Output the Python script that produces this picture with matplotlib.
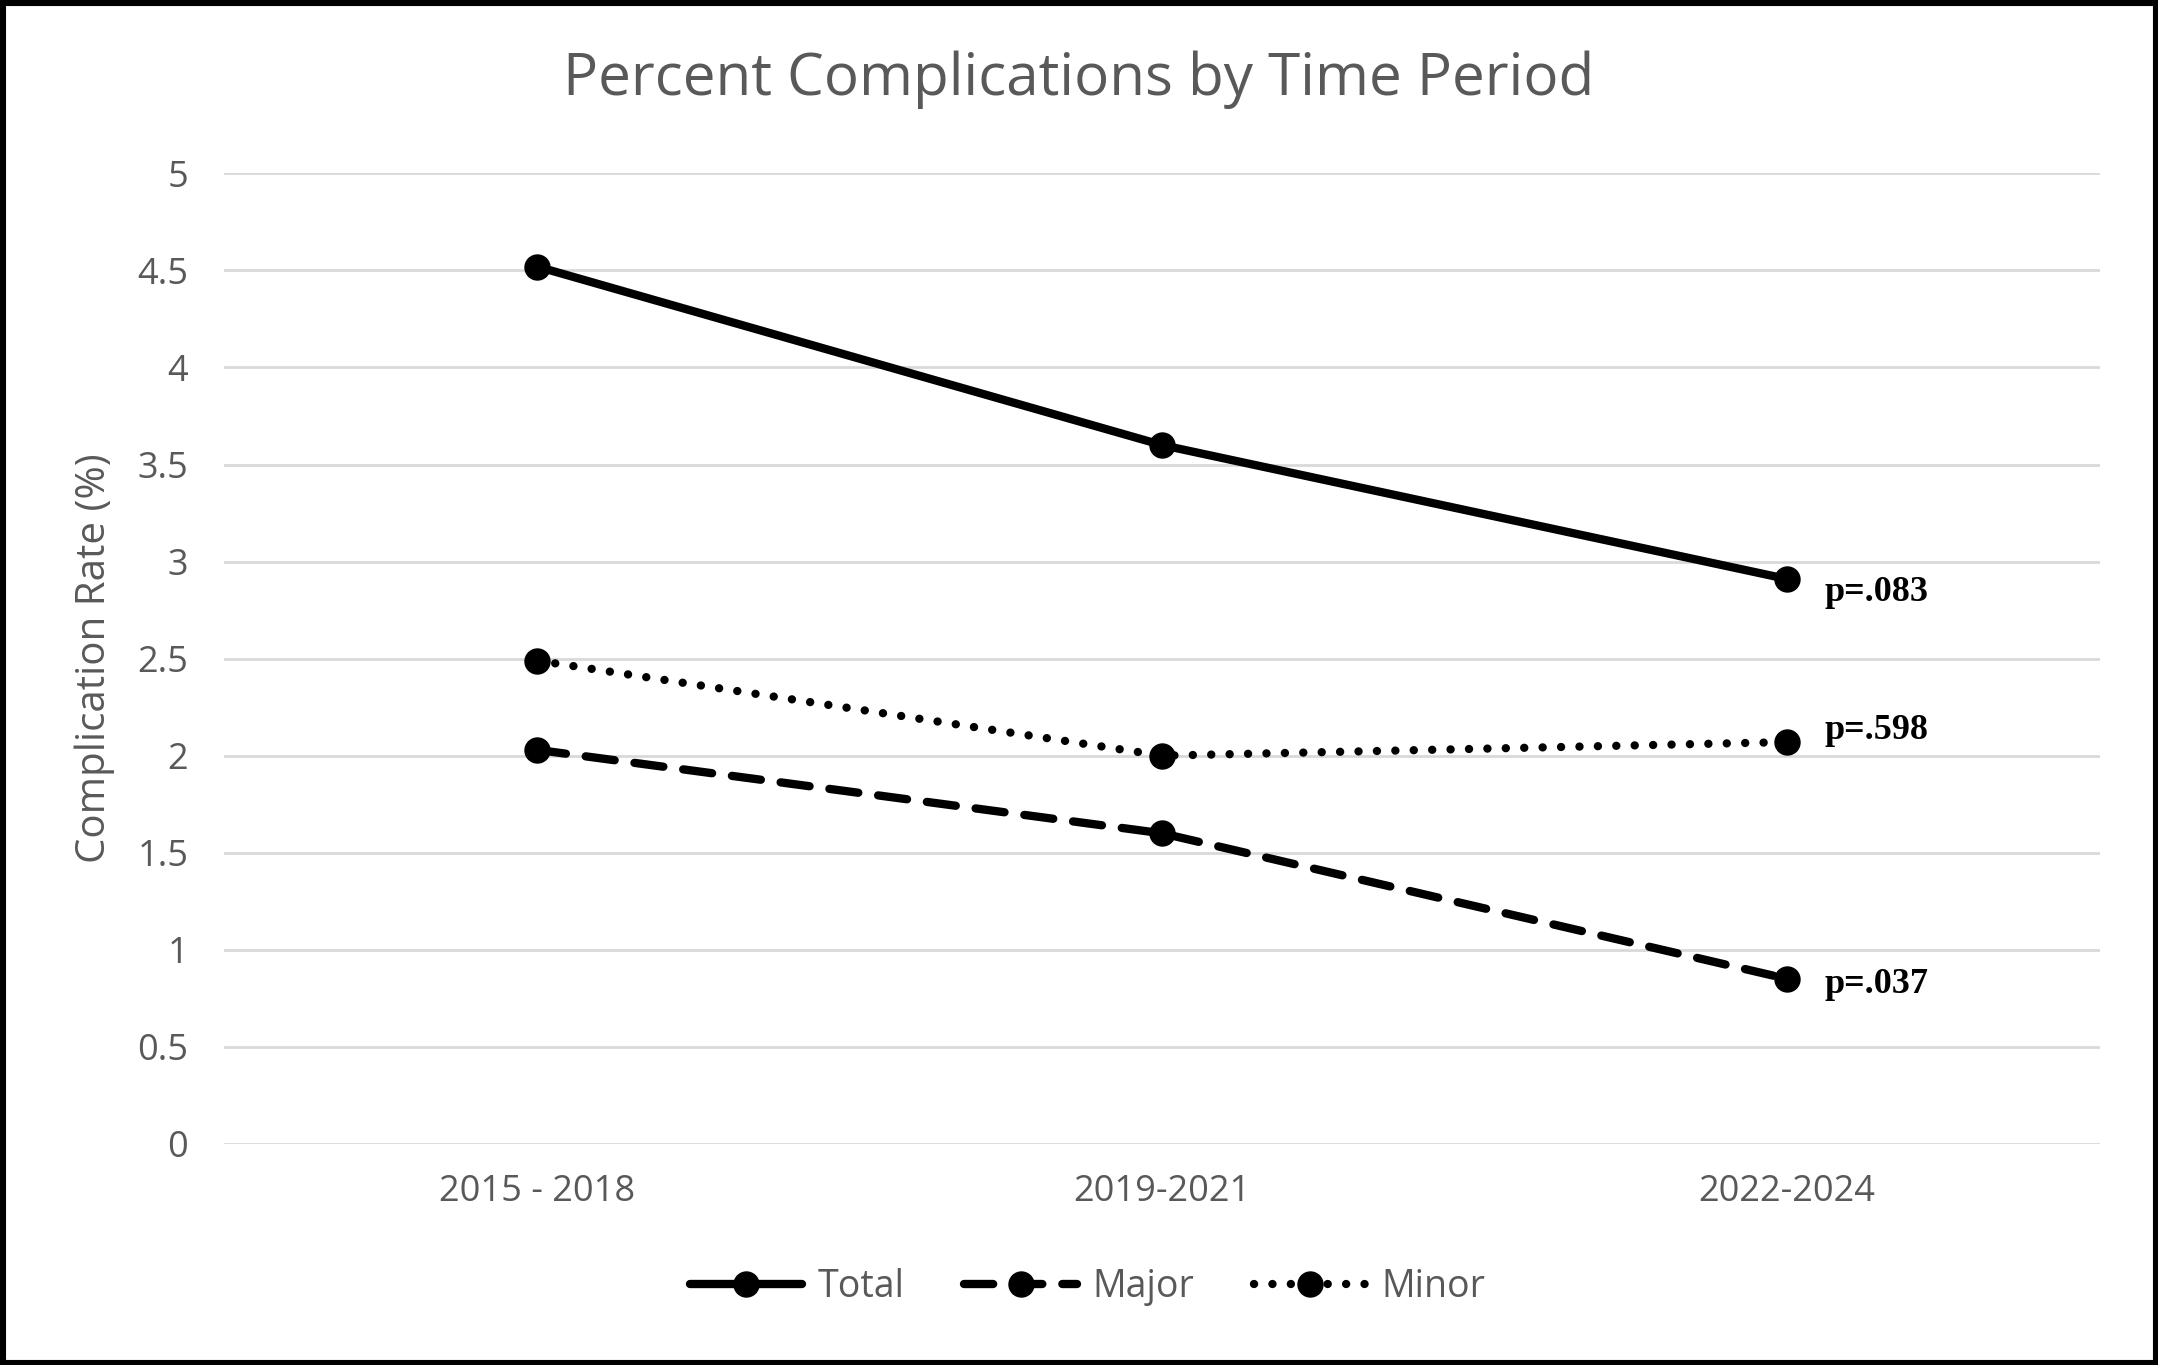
import numpy as np
import matplotlib.pyplot as plt
from matplotlib.patches import Rectangle

periods = ['2015 - 2018', '2019-2021', '2022-2024']
total = [4.52, 3.60, 2.91]
major = [2.03, 1.60, 0.85]
minor = [2.49, 2.00, 2.07]
p_labels = ['p=.083', 'p=.037', 'p=.598']

plt.rcParams['font.family'] = ['Open Sans', 'DejaVu Sans']
grey = '#595959'

fig = plt.figure(figsize=(21.58, 13.65), dpi=100)
ax = fig.add_axes([0.104, 0.162, 0.869, 0.711])

x = np.arange(len(periods))
lw = 6
ms = 18
ax.plot(x, total, color='black', lw=lw, marker='o', ms=ms, label='Total',
        solid_capstyle='round')
ax.plot(x, major, color='black', lw=lw, marker='o', ms=ms, label='Major',
        linestyle=(0, (3.5, 2.4)), dash_capstyle='round')
ax.plot(x, minor, color='black', lw=lw, marker='o', ms=ms, label='Minor',
        linestyle=(0, (0.01, 2.2)), dash_capstyle='round')

# p-values next to last points
offsets = [-10, -4, 8]
for series, lab, dy in zip([total, major, minor], p_labels, offsets):
    ax.annotate(lab, (x[-1], series[-1]), xytext=(27, dy), textcoords='offset points',
                ha='left', va='center', fontsize=26, fontweight='bold',
                family='Liberation Serif', color='black')

ax.set_xlim(-0.5, 2.5)
ax.set_ylim(0, 5)
ax.set_yticks(np.arange(0, 5.01, 0.5))
ax.set_yticklabels(['0', '0.5', '1', '1.5', '2', '2.5', '3', '3.5', '4', '4.5', '5'])
ax.set_xticks(x)
ax.set_xticklabels(periods)
ax.tick_params(axis='both', length=0, labelsize=26, colors=grey)
ax.tick_params(axis='y', pad=26)
ax.tick_params(axis='x', pad=22)
for s in ax.spines.values():
    s.set_visible(False)
ax.grid(axis='y', color='#d9d9d9', lw=2)
ax.set_axisbelow(True)

ax.set_ylabel('Complication Rate (%)', fontsize=29, color=grey, labelpad=16)
fig.suptitle('Percent Complications by Time Period', fontsize=42, color=grey, y=0.963)

fig.legend(loc='center', bbox_to_anchor=(0.504, 0.057), ncol=3, frameon=False,
           fontsize=27, labelcolor=grey, handlelength=3.0, handletextpad=0.4,
           columnspacing=1.6)

fig.patches.append(Rectangle((0, 0), 1, 1, transform=fig.transFigure, fill=False,
                             edgecolor='black', lw=8))

fig.savefig('out.png', dpi=100)
